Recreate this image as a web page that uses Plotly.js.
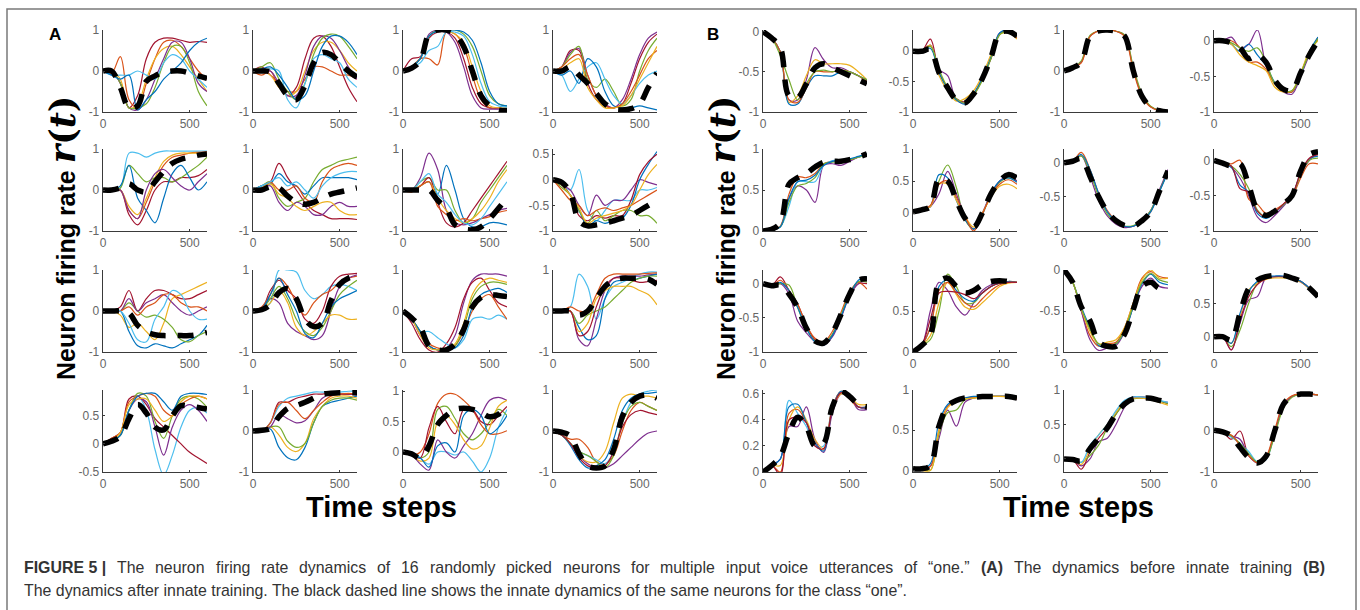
<!DOCTYPE html>
<html><head><meta charset="utf-8">
<script src="https://cdn.plot.ly/plotly-3.0.1.min.js"></script>
<style>html,body{margin:0;padding:0;background:#fff;}#chart{width:1360px;height:610px;}</style>
</head><body><div id="chart"></div>
<script>
// time steps sampled every 50
const T = [0,50,100,150,200,250,300,350,400,450,500,550,600];
const PALETTE = {blue:'#0072BD', orange:'#D95319', yellow:'#EDB120', purple:'#7E2F8E', green:'#77AC30', lightblue:'#4DBEEE', darkred:'#A2142F'};

// ---------- Panel A (before innate training) ----------
const A1_innate = [0,0,-0.4,-0.9,-0.85,-0.25,-0.12,-0.03,0,0,-0.05,-0.12,-0.18];
const A1_runs = {
  darkred:[0,0,-0.3,-0.9,-0.6,0.3,0.7,0.8,0.8,0.75,0.7,0.72,0.7],
  orange:[0,-0.05,0.35,-0.7,-0.9,-0.3,0.3,0.7,0.75,0.6,0.3,0,-0.2],
  yellow:[0,0,-0.2,-0.9,-0.8,-0.2,0.3,0.55,0.6,0.4,0.1,-0.2,-0.5],
  purple:[0,0,-0.3,-0.9,-0.95,-0.7,-0.2,0.3,0.7,0.7,0.3,-0.3,-0.5],
  green:[0,0,-0.3,-0.9,-0.9,-0.8,-0.4,0.2,0.6,0.6,0.2,-0.5,-0.85],
  lightblue:[0,-0.1,-0.1,-0.1,0,-0.1,-0.2,0.2,0.4,0.3,0,-0.2,-0.4],
  blue:[0,-0.1,-0.2,-0.1,-0.95,-0.7,-0.5,-0.2,0,0.2,0.5,0.7,0.8]
};
const A2_innate = [0,0,-0.02,-0.3,-0.6,-0.7,-0.35,0.2,0.45,0.4,0.2,0,-0.15];
const A2_runs = {
  darkred:[0,0.1,-0.1,-0.3,-0.6,-0.4,0.3,0.8,0.85,0.6,0.1,-0.4,-0.75],
  orange:[0,-0.1,0,-0.4,-0.5,-0.5,-0.2,0.1,0.1,0,-0.1,-0.1,-0.2],
  yellow:[0,0,-0.1,-0.4,-0.6,-0.5,0,0.5,0.7,0.7,0.5,0.2,0],
  purple:[0,0,0,-0.3,-0.6,-0.6,-0.1,0.6,0.85,0.8,0.5,0.1,-0.2],
  green:[0,0.1,0.2,-0.2,-0.5,-0.7,-0.3,0.4,0.8,0.9,0.85,0.6,0.3],
  lightblue:[0,0,0.05,0,-0.7,-0.9,-0.3,0.3,0.4,0.3,0.2,-0.2,-0.4],
  blue:[0,0.05,0.1,-0.1,-0.4,-0.7,-0.6,0,0.6,0.85,0.85,0.7,0.4]
};
const A3_innate = [0,0.07,0.25,0.9,1,1,0.9,0.6,0,-0.6,-0.85,-0.95,-0.97];
const A3_runs = {
  darkred:[0,0.3,0.35,0.8,0.95,0.95,0.8,0.3,-0.4,-0.8,-0.9,-0.92,-0.92],
  orange:[0,0.1,0.3,0.3,0.15,0.95,0.9,0.6,-0.1,-0.7,-0.9,-0.9,-0.9],
  yellow:[0,0.1,0.3,0.85,0.98,0.98,0.9,0.7,0.1,-0.5,-0.85,-0.9,-0.9],
  purple:[0,0.1,0.3,0.9,1,0.95,0.7,0.1,-0.6,-0.9,-0.93,-0.93,-0.93],
  green:[0,0.1,0.3,0.85,1,1,1,0.9,0.6,0,-0.6,-0.8,-0.85],
  lightblue:[0,0.1,0.2,0.5,0.6,0.95,0.95,0.85,0.4,-0.3,-0.75,-0.85,-0.88],
  blue:[0,0.1,0.3,0.85,0.98,1,1,0.95,0.75,0.2,-0.5,-0.8,-0.85]
};
const A4_innate = [0,0,0.1,-0.1,-0.3,-0.55,-0.8,-0.93,-0.95,-0.92,-0.8,-0.4,-0.05];
const A4_runs = {
  darkred:[0,0.1,0.5,0.5,-0.3,-0.7,-0.85,-0.9,-0.8,-0.3,0.3,0.7,0.9],
  purple:[0,0.1,0.45,0.55,-0.1,-0.6,-0.8,-0.9,-0.7,-0.2,0.4,0.8,0.95],
  green:[0,0.1,0.4,0.6,-0.2,-0.4,-0.2,-0.5,-0.85,-0.7,0,0.5,0.8],
  lightblue:[0,-0.1,-0.5,-0.2,0.1,0.2,-0.2,-0.6,-0.8,-0.6,-0.3,-0.1,0],
  blue:[0,-0.1,0,-0.3,0.3,0.1,-0.5,-0.85,-0.9,-0.9,-0.85,-0.9,-0.95],
  orange:[0,0.1,0.3,0.4,-0.1,-0.6,-0.85,-0.9,-0.8,-0.5,-0.1,0.3,0.5],
  yellow:[0,0.05,0.2,0.3,-0.4,-0.7,-0.9,-0.9,-0.85,-0.6,-0.2,0.2,0.6]
};
const A5_innate = [0,0,0.05,0.15,0,-0.05,0.2,0.45,0.65,0.75,0.8,0.85,0.88];
const A5_runs = {
  darkred:[0,0,0,-0.6,-0.85,-0.5,0,0.2,0.2,0.3,0.3,0.35,0.5],
  lightblue:[0,0,0.05,0.9,0.9,0.8,0.9,0.95,0.95,0.95,0.95,0.95,0.95],
  green:[0,0,0.05,0.6,0.4,0.2,0.3,0.3,0.2,0.3,0.45,0.6,0.8],
  blue:[0,0,0.1,0.6,-0.2,-0.5,-0.8,-0.2,0.4,0.6,0.3,0,0.2],
  orange:[0,0,0,-0.5,-0.7,-0.3,0.2,0.6,0.8,0.85,0.9,0.92,0.93],
  yellow:[0,0,0,-0.4,-0.6,-0.2,0.3,0.7,0.85,0.9,0.9,0.9,0.9],
  purple:[0,0,0,-0.5,-0.7,0,0.4,0.5,0.3,0.1,0,0.2,0.4]
};
const A6_innate = [0,0,0.08,0.05,-0.15,-0.3,-0.35,-0.3,-0.2,-0.1,-0.05,0,0.05];
const A6_runs = {
  darkred:[0,0.1,0.2,0.65,0.3,0,-0.3,-0.5,-0.6,-0.7,-0.7,-0.7,-0.72],
  green:[0,0.1,0.2,-0.2,-0.4,-0.3,-0.2,0.2,0.5,0.6,0.7,0.75,0.8],
  blue:[0,0.1,0.15,0.4,0.2,0.1,-0.1,0.1,0.3,0.3,0.3,0.3,0.25],
  purple:[0,0.05,0.1,-0.3,-0.5,-0.3,-0.4,-0.6,-0.6,-0.4,-0.3,-0.4,-0.4],
  orange:[0,0.05,0.2,0,0,0.1,-0.2,-0.3,0.2,0.5,0.6,0.65,0.6],
  yellow:[0,0.05,0.15,-0.1,-0.2,-0.4,-0.5,-0.4,-0.3,-0.3,-0.5,-0.6,-0.6],
  lightblue:[0,0.1,0.2,0.3,0.1,0.2,0,-0.2,0.1,0.3,0.4,0.45,0.45]
};
const A7_innate = [0,0,0,0,-0.25,-0.45,-0.85,-0.95,-0.97,-0.9,-0.7,-0.45,-0.2];
const A7_runs = {
  purple:[0,0,0.3,0.9,0.5,-0.5,-0.8,-0.85,-0.8,-0.7,-0.6,-0.5,-0.45],
  blue:[0,0,0.1,0.2,-0.1,0.6,0,-0.7,-0.9,-0.9,-0.8,-0.8,-0.85],
  green:[0,0,0.2,0.3,0,0,-0.5,-0.8,-0.7,-0.3,0,0.3,0.6],
  darkred:[0,0,0.1,0.3,-0.3,-0.8,-0.9,-0.8,-0.5,-0.2,0.1,0.4,0.7],
  yellow:[0,0,0.1,0.2,-0.2,-0.5,-0.7,-0.8,-0.7,-0.5,-0.2,0.2,0.5],
  orange:[0,-0.05,0.1,0.2,-0.4,-0.6,-0.75,-0.7,-0.75,-0.7,-0.65,-0.55,-0.5],
  lightblue:[0,0,0.2,0.4,-0.1,-0.3,-0.6,-0.8,-0.85,-0.7,-0.4,-0.1,0.2]
};
const A8_innate = [0,-0.05,-0.25,-0.8,-0.9,-0.88,-0.85,-0.8,-0.75,-0.7,-0.6,-0.5,-0.4];
const A8_runs = {
  lightblue:[0,-0.1,-0.2,0.2,-0.6,-0.8,-0.6,-0.4,-0.4,-0.4,-0.2,-0.2,-0.15],
  purple:[0,-0.1,-0.2,-0.5,-0.7,-0.3,-0.5,-0.4,-0.4,-0.2,0,-0.05,-0.1],
  blue:[0,-0.1,-0.3,-0.6,-0.9,-0.8,-0.85,-0.8,-0.75,-0.5,0,0.3,0.55],
  darkred:[0,-0.1,-0.3,-0.7,-0.8,-0.7,-0.75,-0.7,-0.7,-0.4,0.1,0.35,0.5],
  green:[0,-0.15,-0.3,-0.6,-0.85,-0.6,-0.8,-0.7,-0.6,-0.6,-0.7,-0.7,-0.85],
  orange:[0,-0.2,-0.4,-0.5,-0.7,-0.6,-0.55,-0.6,-0.55,-0.5,-0.4,-0.3,-0.2],
  yellow:[0,-0.1,-0.3,-0.55,-0.85,-0.75,-0.7,-0.65,-0.6,-0.5,-0.2,0.1,0.3]
};
const A9_innate = [0,0,0,-0.05,-0.35,-0.5,-0.58,-0.6,-0.6,-0.6,-0.6,-0.57,-0.52];
const A9_runs = {
  darkred:[0,0,0.1,0.5,0,0.3,0.5,0.5,0.4,0.3,0.3,0.4,0.5],
  yellow:[0,0,-0.1,-0.4,-0.3,-0.5,-0.7,-0.3,0.3,0.4,0.5,0.6,0.7],
  blue:[0,0,0,-0.5,-0.85,-0.9,-0.8,-0.85,-0.9,-0.8,-0.7,-0.6,-0.35],
  green:[0,0,0,0.2,0,-0.15,-0.1,-0.2,-0.4,-0.7,-0.75,-0.6,-0.5],
  purple:[0,0,0,0.3,0,0.2,0.3,0.4,0.2,0,-0.1,0,0.1],
  orange:[0,0,0,0.1,-0.1,0.1,0.2,0.4,0.4,0.2,0.1,0.1,0],
  lightblue:[0,0,0,-0.3,-0.7,-0.75,-0.2,0.1,0.5,0.4,0,-0.2,-0.2]
};
const A10_innate = [0,0.03,0.15,0.45,0.55,0.3,-0.2,-0.38,-0.3,0.25,0.65,0.8,0.85];
const A10_runs = {
  lightblue:[0,0.05,0.2,1,1,0.95,0.5,0.3,0.4,0.6,0.65,0.6,0.5],
  darkred:[0,0.05,0.5,0.75,0.5,0.3,-0.2,-0.3,0,0.6,0.85,0.9,0.92],
  orange:[0,0.1,0.4,0.8,0.6,0.2,-0.1,0.2,0.4,0.5,0.7,0.8,0.85],
  purple:[0,0.05,0.3,0.2,-0.3,-0.5,-0.6,-0.7,-0.6,0,0.6,0.8,0.88],
  green:[0,0.05,0.3,0.6,0.3,-0.2,-0.5,-0.6,-0.4,0,0.4,0.6,0.75],
  yellow:[0,0.05,0.2,0.5,0.2,-0.4,-0.6,-0.5,-0.3,-0.1,-0.1,-0.2,-0.2],
  blue:[0,0.05,0.4,0.8,0.4,0,-0.55,-0.65,-0.3,0.1,0.3,0.4,0.5]
};
const A11_innate = [0,-0.17,-0.4,-0.85,-0.95,-0.95,-0.8,-0.45,0.1,0.33,0.4,0.38,0.35];
const A11_runs = {
  purple:[0,-0.2,-0.6,-0.85,-0.95,-0.9,-0.6,0.2,0.75,0.9,0.9,0.9,0.85],
  darkred:[0,-0.3,-0.7,-0.95,-1,-0.8,-0.4,0.3,0.7,0.8,0.5,0.2,0.1],
  lightblue:[0,-0.2,-0.5,-0.5,-0.65,-0.8,-0.9,-0.7,-0.2,-0.15,-0.2,-0.1,-0.2],
  orange:[0,-0.2,-0.5,-0.8,-0.9,-0.95,-0.85,-0.5,0,0.3,0.4,0.1,-0.2],
  green:[0,-0.2,-0.5,-0.85,-0.95,-0.95,-0.85,-0.4,0.3,0.6,0.7,0.7,0.65],
  blue:[0,-0.2,-0.5,-0.85,-0.95,-0.95,-0.9,-0.6,0.1,0.4,0.5,0.55,0.45],
  yellow:[0,-0.2,-0.6,-0.9,-0.95,-0.9,-0.8,-0.3,0.4,0.7,0.8,0.75,0.7]
};
const A12_innate = [0,0,0,-0.1,0,0.3,0.6,0.75,0.8,0.8,0.8,0.78,0.65];
const A12_runs = {
  lightblue:[0,0,0.1,0.9,0.6,-0.2,0.3,0.6,0.7,0.8,0.9,0.95,0.95],
  purple:[0,0,0,-0.7,-0.85,-0.2,0.5,0.8,0.85,0.85,0.85,0.88,0.9],
  blue:[0,0,0,-0.4,-0.7,-0.6,0.3,0.7,0.75,0.75,0.8,0.85,0.9],
  green:[0,0,0,-0.3,-0.1,0,0.1,0.3,0.5,0.7,0.8,0.85,0.85],
  orange:[0,0,0.1,0,0,0.4,0.8,0.9,0.9,0.9,0.9,0.92,0.93],
  yellow:[0,0,0,-0.5,-0.3,0.3,0.5,0.6,0.6,0.6,0.5,0.4,0.15],
  darkred:[0,0,0,-0.6,-0.5,0.1,0.6,0.8,0.8,0.75,0.7,0.72,0.75]
};
const A13_innate = [0,0.05,0.13,0.45,0.7,0.55,0.3,0.25,0.5,0.68,0.67,0.65,0.62];
const A13_runs = {
  lightblue:[0,0.05,0.15,0.6,0.85,0.6,-0.1,-0.55,-0.2,0.3,0.6,0.65,0.55],
  darkred:[0,0.1,0.2,0.8,0.85,0.7,0.45,0.3,0.15,0,-0.15,-0.25,-0.35],
  purple:[0,0.05,0.15,0.6,0.8,0.75,0.3,-0.2,0.3,0.6,0.7,0.6,0.4],
  green:[0,0.05,0.15,0.6,0.9,0.85,0.4,0.1,0.5,0.8,0.85,0.8,0.65],
  orange:[0,0.1,0.2,0.75,0.85,0.9,0.85,0.6,0.5,0.7,0.8,0.85,0.8],
  yellow:[0,0.05,0.2,0.7,0.8,0.8,0.6,0.4,0.5,0.75,0.85,0.85,0.8],
  blue:[0,0.05,0.15,0.6,0.85,0.9,0.9,0.75,0.6,0.85,0.9,0.9,0.88]
};
const A14_innate = [0,0.02,0.06,0.35,0.55,0.62,0.7,0.8,0.9,0.92,0.93,0.93,0.93];
const A14_runs = {
  blue:[0,0,0.05,-0.4,-0.65,-0.7,-0.4,0.2,0.6,0.7,0.75,0.8,0.85],
  yellow:[0,0,0.1,-0.1,-0.4,-0.5,-0.3,0.3,0.6,0.8,0.85,0.85,0.8],
  green:[0,0,0.1,0.1,-0.25,-0.4,-0.3,0.2,0.6,0.75,0.8,0.8,0.75],
  purple:[0,0,0.1,0.4,0.3,0.2,0.25,0.5,0.8,0.9,0.9,0.9,0.88],
  darkred:[0,0,0.2,0.7,0.7,0.8,0.85,0.9,0.9,0.92,0.9,0.9,0.92],
  lightblue:[0,0,0.2,0.6,0.8,0.85,0.9,0.95,0.95,0.95,0.95,0.97,0.97],
  orange:[0,0,0.2,0.65,0.7,0.5,0.3,0.5,0.7,0.85,0.9,0.92,0.9]
};
const A15_innate = [0,-0.03,-0.1,0.1,0.45,0.6,0.7,0.72,0.7,0.65,0.58,0.62,0.78];
const A15_runs = {
  lightblue:[0,0,-0.1,-0.2,0,0,-0.05,0,-0.15,-0.33,-0.1,0.4,0.7],
  green:[0,-0.05,-0.1,0,0.7,0.75,0.55,0.3,0.2,0.3,0.5,0.7,0.6],
  purple:[0,-0.05,-0.2,-0.3,0.2,0,-0.1,0.1,0.3,0.6,0.85,0.9,0.85],
  orange:[0,-0.05,0,0.3,0.8,0.95,0.95,0.85,0.7,0.45,0.3,0.3,0.35],
  darkred:[0,-0.05,-0.1,0.4,0.75,0.5,0.3,0.7,0.7,0.5,0.45,0.6,0.75],
  yellow:[0,-0.05,-0.15,-0.1,0.5,0.6,0.45,0.2,0.05,0.1,0.4,0.75,0.85],
  blue:[0,-0.05,-0.1,-0.25,0.1,0.15,0,0.6,0.7,0.6,0.3,0.4,0.6]
};
const A16_innate = [0,-0.03,-0.12,-0.55,-0.85,-0.9,-0.85,-0.45,0.35,0.7,0.85,0.88,0.8];
const A16_runs = {
  orange:[0,-0.1,-0.2,-0.2,-0.4,-0.75,-0.8,-0.6,0,0.5,0.7,0.6,0.5],
  purple:[0,-0.1,-0.3,-0.6,-0.8,-0.9,-0.9,-0.8,-0.6,-0.4,-0.2,-0.05,0],
  yellow:[0,-0.1,-0.3,-0.6,-0.75,-0.75,-0.5,0.2,0.8,0.9,0.85,0.85,0.8],
  lightblue:[0,-0.1,-0.3,-0.5,-0.6,-0.7,-0.8,-0.5,0.2,0.7,0.9,0.97,1],
  blue:[0,-0.1,-0.35,-0.7,-0.9,-0.85,-0.7,-0.2,0.5,0.8,0.9,0.92,0.95],
  green:[0,-0.1,-0.3,-0.5,-0.6,-0.75,-0.9,-0.6,0.2,0.6,0.7,0.6,0.5],
  darkred:[0,-0.1,-0.3,-0.65,-0.85,-0.9,-0.85,-0.5,0.1,0.4,0.5,0.45,0.4]
};

// ---------- Panel B (after innate training) ----------
const B1_innate = [0,-0.08,-0.2,-0.8,-0.82,-0.65,-0.45,-0.4,-0.45,-0.5,-0.55,-0.6,-0.65];
const B1_runs = {
  purple:[0,-0.08,-0.25,-0.85,-0.85,-0.6,-0.2,-0.35,-0.45,-0.45,-0.5,-0.55,-0.62],
  yellow:[0,-0.08,-0.25,-0.88,-0.8,-0.55,-0.35,-0.4,-0.4,-0.4,-0.42,-0.5,-0.6],
  blue:[0,-0.08,-0.25,-0.9,-0.9,-0.7,-0.55,-0.55,-0.55,-0.5,-0.5,-0.55,-0.6],
  orange:[0,-0.08,-0.25,-0.85,-0.88,-0.7,-0.5,-0.5,-0.5,-0.48,-0.5,-0.55,-0.62],
  green:[0,-0.08,-0.3,-0.6,-0.85,-0.65,-0.5,-0.48,-0.5,-0.48,-0.5,-0.55,-0.6]
};
const B2_innate = [0,0,0.03,-0.35,-0.6,-0.8,-0.85,-0.7,-0.45,-0.1,0.3,0.33,0.25];
const B2_runs = {
  purple:[0,0,0.1,-0.3,-0.4,-0.8,-0.85,-0.7,-0.45,-0.1,0.3,0.33,0.25],
  darkred:[0,0,0.2,-0.35,-0.6,-0.78,-0.83,-0.72,-0.45,-0.12,0.28,0.35,0.22],
  yellow:[0,0,0.1,-0.4,-0.65,-0.82,-0.78,-0.65,-0.4,-0.05,0.28,0.3,0.2],
  blue:[0,0,0.05,-0.35,-0.62,-0.8,-0.87,-0.7,-0.45,-0.1,0.3,0.35,0.25],
  green:[0,0,0.08,-0.3,-0.6,-0.78,-0.85,-0.72,-0.48,-0.12,0.27,0.33,0.24]
};
const B3_innate = [0,0.08,0.22,0.85,0.98,1,0.97,0.85,0,-0.62,-0.88,-0.97,-1];
const B3_runs = {
  purple:[0,0.08,0.22,0.85,0.98,1,0.97,0.86,0.05,-0.6,-0.87,-0.96,-0.99],
  green:[0,0.08,0.25,0.87,0.98,1,0.97,0.88,0.1,-0.55,-0.86,-0.96,-0.99],
  orange:[0,0.08,0.2,0.84,0.98,1,0.97,0.84,0,-0.62,-0.88,-0.97,-1]
};
const B4_innate = [0,0,-0.03,-0.1,-0.25,-0.2,-0.3,-0.55,-0.68,-0.7,-0.45,-0.2,0];
const B4_runs = {
  purple:[0,0,0.05,-0.1,-0.05,0.15,-0.35,-0.6,-0.72,-0.75,-0.5,-0.2,0.05],
  blue:[0,0,-0.05,-0.15,-0.05,-0.2,-0.35,-0.58,-0.7,-0.72,-0.48,-0.15,0.05],
  orange:[0,0,0,-0.1,-0.3,-0.3,-0.4,-0.6,-0.7,-0.72,-0.45,-0.18,0.02],
  yellow:[0,0,-0.05,-0.2,-0.3,-0.35,-0.42,-0.65,-0.72,-0.7,-0.45,-0.15,0],
  green:[0,0,-0.03,-0.1,-0.15,-0.1,-0.3,-0.6,-0.7,-0.7,-0.46,-0.18,0.03]
};
const B5_innate = [0,0.02,0.1,0.57,0.65,0.7,0.78,0.84,0.85,0.85,0.87,0.9,0.94];
const B5_runs = {
  purple:[0,0.01,0.05,0.4,0.55,0.5,0.35,0.8,0.82,0.8,0.85,0.9,0.93],
  orange:[0,0.01,0.06,0.45,0.66,0.65,0.7,0.82,0.85,0.86,0.87,0.9,0.93],
  lightblue:[0,0.01,0.05,0.3,0.6,0.6,0.6,0.8,0.86,0.86,0.88,0.9,0.93],
  green:[0,0.01,0.05,0.35,0.55,0.58,0.65,0.82,0.84,0.85,0.87,0.9,0.93],
  blue:[0,0.01,0.05,0.4,0.6,0.62,0.68,0.8,0.85,0.86,0.88,0.91,0.94]
};
const B6_innate = [0.02,0.05,0.1,0.53,0.5,0.2,-0.08,-0.22,0,0.3,0.5,0.6,0.55];
const B6_runs = {
  green:[0.02,0.05,0.1,0.5,0.75,0.4,-0.1,-0.25,-0.02,0.28,0.48,0.55,0.5],
  purple:[0.02,0.05,0.1,0.3,0.65,0.3,-0.05,-0.25,0,0.3,0.5,0.58,0.5],
  blue:[0.02,0.05,0.1,0.6,0.55,0.2,-0.1,-0.25,-0.02,0.3,0.5,0.55,0.48],
  yellow:[0.02,0.05,0.1,0.45,0.45,0.2,-0.05,-0.22,0,0.25,0.42,0.45,0.38],
  orange:[0.02,0.05,0.12,0.45,0.5,0.25,-0.05,-0.28,-0.02,0.28,0.45,0.52,0.45]
};
const B7_innate = [0,0.02,0.06,-0.2,-0.5,-0.72,-0.85,-0.92,-0.93,-0.85,-0.72,-0.42,-0.12];
const B7_runs = {
  orange:[0,0.02,0.15,-0.1,-0.45,-0.7,-0.85,-0.93,-0.93,-0.86,-0.72,-0.42,-0.12],
  purple:[0,0.02,0.1,-0.2,-0.55,-0.78,-0.9,-0.95,-0.93,-0.85,-0.7,-0.4,-0.1],
  green:[0,0.02,0.1,-0.15,-0.5,-0.75,-0.88,-0.93,-0.92,-0.85,-0.7,-0.42,-0.13],
  blue:[0,0.02,0.12,-0.1,-0.45,-0.72,-0.86,-0.93,-0.93,-0.86,-0.72,-0.43,-0.14]
};
const B8_innate = [0,-0.04,-0.08,-0.05,-0.35,-0.7,-0.78,-0.72,-0.62,-0.5,-0.15,0.08,0.12];
const B8_runs = {
  purple:[0,-0.04,-0.1,-0.25,-0.5,-0.8,-0.88,-0.78,-0.65,-0.5,-0.2,0,0.1],
  orange:[0,-0.04,-0.05,0,-0.55,-0.62,-0.75,-0.7,-0.62,-0.52,-0.25,-0.05,-0.05],
  blue:[0,-0.04,-0.1,-0.35,-0.45,-0.75,-0.82,-0.74,-0.63,-0.5,-0.18,0.02,0.06],
  green:[0,-0.04,-0.08,-0.2,-0.4,-0.7,-0.8,-0.73,-0.63,-0.5,-0.2,0,0.03],
  darkred:[0,-0.04,-0.08,-0.4,-0.45,-0.72,-0.8,-0.73,-0.62,-0.5,-0.17,0.03,0.08]
};
const B9_innate = [0,-0.03,-0.02,-0.15,-0.35,-0.65,-0.84,-0.87,-0.72,-0.45,-0.15,0.05,0.07];
const B9_runs = {
  darkred:[0,-0.03,0.1,-0.1,-0.3,-0.6,-0.82,-0.87,-0.75,-0.48,-0.15,0,0],
  purple:[0,-0.03,0,-0.15,-0.55,-0.72,-0.85,-0.9,-0.78,-0.5,-0.18,0,0.05],
  orange:[0,-0.03,0.05,-0.1,-0.3,-0.6,-0.8,-0.85,-0.7,-0.42,-0.12,0.02,-0.08],
  green:[0,-0.03,0,-0.02,-0.35,-0.65,-0.84,-0.88,-0.74,-0.46,-0.15,0.03,0.02],
  blue:[0,-0.03,0.02,-0.1,-0.35,-0.65,-0.85,-0.9,-0.76,-0.48,-0.17,0.05,0.1]
};
const B10_innate = [0,0.08,0.2,0.85,0.9,0.8,0.72,0.75,0.82,0.86,0.87,0.86,0.85];
const B10_runs = {
  purple:[0,0.08,0.5,0.85,0.75,0.55,0.45,0.6,0.75,0.82,0.85,0.86,0.85],
  green:[0,0.08,0.15,0.5,0.95,0.8,0.6,0.6,0.72,0.8,0.84,0.86,0.85],
  yellow:[0,0.08,0.2,0.6,0.85,0.7,0.55,0.52,0.6,0.7,0.8,0.84,0.85],
  blue:[0,0.08,0.3,0.8,0.88,0.75,0.65,0.62,0.72,0.8,0.84,0.86,0.85],
  orange:[0,0.08,0.3,0.75,0.85,0.72,0.6,0.55,0.65,0.75,0.82,0.85,0.85],
  darkred:[0,0.08,0.4,0.72,0.74,0.73,0.7,0.65,0.72,0.8,0.84,0.85,0.85]
};
const B11_innate = [0,-0.15,-0.45,-0.62,-0.88,-0.93,-0.93,-0.78,-0.48,-0.2,-0.15,-0.22,-0.2];
const B11_runs = {
  orange:[0,-0.15,-0.5,-0.8,-0.93,-0.9,-0.88,-0.7,-0.4,-0.1,-0.02,-0.08,-0.1],
  purple:[0,-0.15,-0.5,-0.85,-0.98,-0.95,-0.92,-0.75,-0.45,-0.2,-0.1,-0.2,-0.22],
  blue:[0,-0.15,-0.45,-0.7,-0.92,-0.94,-0.9,-0.75,-0.45,-0.17,-0.05,-0.15,-0.18],
  yellow:[0,-0.15,-0.48,-0.75,-0.9,-0.88,-0.85,-0.7,-0.4,-0.12,0,-0.1,-0.1],
  green:[0,-0.15,-0.47,-0.72,-0.9,-0.92,-0.9,-0.73,-0.43,-0.15,-0.04,-0.12,-0.15]
};
const B12_innate = [0,0,-0.05,0.35,0.72,0.85,0.9,0.92,0.92,0.88,0.83,0.73,0.6];
const B12_runs = {
  purple:[0,0,-0.2,0.2,0.55,0.6,0.88,0.9,0.9,0.87,0.82,0.72,0.6],
  green:[0,0,-0.15,0.1,0.5,0.8,0.88,0.9,0.9,0.88,0.83,0.72,0.6],
  yellow:[0,0,-0.1,0.3,0.7,0.8,0.86,0.88,0.88,0.86,0.82,0.72,0.6],
  darkred:[0,0,-0.2,0.25,0.6,0.78,0.87,0.9,0.9,0.88,0.83,0.73,0.6],
  blue:[0,0,-0.1,0.35,0.68,0.83,0.9,0.91,0.91,0.88,0.83,0.73,0.6]
};
const B13_innate = [0,0.05,0.12,0.3,0.42,0.35,0.2,0.22,0.5,0.62,0.58,0.52,0.5];
const B13_runs = {
  lightblue:[0,0.05,0.1,0.55,0.45,0.35,0.2,0.2,0.5,0.62,0.57,0.5,0.48],
  purple:[0,0.05,0.1,0.35,0.35,0.5,0.25,0.15,0.45,0.6,0.58,0.48,0.48],
  orange:[0,0.05,0,0.45,0.48,0.38,0.22,0.17,0.5,0.62,0.56,0.5,0.5],
  yellow:[0,0.05,0.05,0.4,0.5,0.4,0.25,0.18,0.48,0.6,0.58,0.52,0.52],
  blue:[0,0.05,0.1,0.5,0.52,0.38,0.22,0.16,0.48,0.62,0.58,0.5,0.5],
  darkred:[0,0.05,-0.02,0.4,0.42,0.38,0.2,0.18,0.48,0.61,0.57,0.5,0.49]
};
const B14_innate = [0.02,0.02,0.06,0.55,0.8,0.87,0.9,0.91,0.92,0.92,0.92,0.92,0.9];
const B14_runs = {
  purple:[0.02,0.02,0.05,0.4,0.75,0.55,0.85,0.9,0.92,0.92,0.92,0.92,0.88],
  green:[0.02,0.02,0,0.45,0.72,0.75,0.88,0.9,0.91,0.92,0.92,0.92,0.9],
  orange:[0.02,0.02,0.05,0.5,0.8,0.86,0.9,0.91,0.92,0.92,0.92,0.92,0.9],
  blue:[0.02,0.02,0.08,0.6,0.82,0.88,0.9,0.92,0.92,0.92,0.92,0.92,0.9],
  yellow:[0.02,0,0,0.5,0.78,0.86,0.89,0.9,0.91,0.92,0.92,0.91,0.89]
};
const B15_innate = [0,-0.01,-0.03,0.15,0.3,0.45,0.65,0.8,0.87,0.88,0.88,0.85,0.82];
const B15_runs = {
  purple:[0,-0.01,-0.1,0,0.25,0.3,0.5,0.75,0.88,0.88,0.86,0.84,0.82],
  darkred:[0,-0.01,-0.15,0.1,0.3,0.45,0.65,0.82,0.9,0.9,0.88,0.84,0.8],
  green:[0,-0.01,-0.05,0.05,0.2,0.45,0.65,0.8,0.87,0.88,0.87,0.84,0.8],
  yellow:[0,-0.01,-0.08,0.15,0.35,0.5,0.68,0.83,0.88,0.88,0.86,0.82,0.78],
  lightblue:[0,0,-0.05,0.2,0.35,0.5,0.7,0.85,0.9,0.9,0.88,0.85,0.82]
};
const B16_innate = [0.02,-0.02,-0.12,-0.4,-0.65,-0.78,-0.62,0,0.65,0.85,0.9,0.9,0.88];
const B16_runs = {
  darkred:[0.02,-0.02,-0.2,0,-0.6,-0.75,-0.65,-0.05,0.6,0.85,0.9,0.9,0.88],
  lightblue:[0.02,-0.02,-0.15,-0.3,-0.5,-0.75,-0.7,-0.05,0.62,0.84,0.9,0.9,0.88],
  purple:[0.02,-0.02,-0.12,-0.2,-0.6,-0.78,-0.66,-0.05,0.6,0.84,0.9,0.9,0.88],
  green:[0.02,-0.02,-0.12,-0.3,-0.55,-0.76,-0.68,-0.1,0.55,0.82,0.9,0.9,0.88],
  orange:[0.02,-0.02,-0.1,-0.35,-0.6,-0.78,-0.63,0.02,0.66,0.86,0.9,0.9,0.88]
};

// y-axis ranges and tick labels per subplot (row-major, 4x4)
const yRangeA = [[-1,1],[-1,1],[-1,1],[-1,1],[-1,1],[-1,1],[-1,1],[-1,0.6],[-1,1],[-1,1],[-1,1],[-1,1],[-0.5,0.96],[-1,1],[-0.33,1.02],[-1,1]];
const yTicksA = [[-1,0,1],[-1,0,1],[-1,0,1],[-1,0,1],[-1,0,1],[-1,0,1],[-1,0,1],[-1,-0.5,0,0.5],[-1,0,1],[-1,0,1],[-1,0,1],[-1,0,1],[-0.5,0,0.5],[-1,0,1],[0,0.5,1],[-1,0,1]];
const yRangeB = [[-1,0.02],[-1,0.35],[-1,1],[-1,0.15],[0,1],[-0.28,1],[-1,0.2],[-1,0.16],[-1,0.2],[0,1],[-1,0],[-0.23,1],[0,0.63],[-0.02,1],[-0.19,1],[-1,1]];
const yTicksB = [[-1,-0.5,0],[-1,-0.5,0],[-1,0,1],[-1,-0.5,0],[0,0.5,1],[0,0.5,1],[-1,-0.5,0],[-1,-0.5,0],[-1,-0.5,0],[0,0.5,1],[-1,-0.5,0],[0,0.5,1],[0,0.2,0.4,0.6],[0,0.5,1],[0,0.5,1],[-1,0,1]];
const xTicks = [0,500];

// caption text
const captionLine1 = [['FIGURE 5 |',true],['The',false],['neuron',false],['firing',false],['rate',false],['dynamics',false],['of',false],['16',false],['randomly',false],['picked',false],['neurons',false],['for',false],['multiple',false],['input',false],['voice',false],['utterances',false],['of',false],['\u201cone.\u201d',false],['(A)',true],['The',false],['dynamics',false],['before',false],['innate',false],['training',false],['(B)',true]];
const captionLine2 = 'The dynamics after innate training. The black dashed line shows the innate dynamics of the same neurons for the class \u201cone\u201d.';

const innateA = [A1_innate,A2_innate,A3_innate,A4_innate,A5_innate,A6_innate,A7_innate,A8_innate,A9_innate,A10_innate,A11_innate,A12_innate,A13_innate,A14_innate,A15_innate,A16_innate];
const runsA = [A1_runs,A2_runs,A3_runs,A4_runs,A5_runs,A6_runs,A7_runs,A8_runs,A9_runs,A10_runs,A11_runs,A12_runs,A13_runs,A14_runs,A15_runs,A16_runs];
const innateB = [B1_innate,B2_innate,B3_innate,B4_innate,B5_innate,B6_innate,B7_innate,B8_innate,B9_innate,B10_innate,B11_innate,B12_innate,B13_innate,B14_innate,B15_innate,B16_innate];
const runsB = [B1_runs,B2_runs,B3_runs,B4_runs,B5_runs,B6_runs,B7_runs,B8_runs,B9_runs,B10_runs,B11_runs,B12_runs,B13_runs,B14_runs,B15_runs,B16_runs];

// ---------- layout geometry (pixels) ----------
const WW = 1360, HH = 610, PW = 104, PH = 82;
const colLeftA = [103,253,403,553], colLeftB = [763,913,1064,1214];
const rowTop = [30,149,270,390];
const fmt = v => String(v);

const traces = [];
const layout = {
  width: WW, height: HH, margin:{l:0,r:0,t:0,b:0}, showlegend:false,
  paper_bgcolor:'#fff', plot_bgcolor:'rgba(0,0,0,0)', annotations:[], shapes:[]
};
let n = 0;
function addPanel(innate, runs, yRange, yTicks, cols) {
  for (let k = 0; k < 16; k++) {
    n++;
    const r = Math.floor(k/4), c = k%4;
    const xid = n===1 ? 'x' : 'x'+n, yid = n===1 ? 'y' : 'y'+n;
    const left = cols[c], top = rowTop[r];
    Object.keys(runs[k]).forEach(col => {
      traces.push({x:T, y:runs[k][col], xaxis:xid, yaxis:yid, type:'scatter', mode:'lines',
        line:{color:PALETTE[col], width:1.2, shape:'spline', smoothing:1}, hoverinfo:'skip'});
    });
    traces.push({x:T, y:innate[k], xaxis:xid, yaxis:yid, type:'scatter', mode:'lines',
      line:{color:'#000', width:5.5, dash:'16px,12px', shape:'spline', smoothing:1}, hoverinfo:'skip'});
    const common = {showline:true, linecolor:'#3a3a3a', linewidth:1.3, ticks:'inside', ticklen:2,
      tickcolor:'#3a3a3a', showgrid:false, zeroline:false, fixedrange:true,
      tickfont:{family:'Liberation Sans, Arial, sans-serif', size:12, color:'#666'}};
    layout[n===1?'xaxis':'xaxis'+n] = Object.assign({}, common, {
      domain:[left/WW, (left+PW)/WW], range:[0,600], tickvals:xTicks, ticktext:xTicks.map(fmt), anchor:yid});
    layout[n===1?'yaxis':'yaxis'+n] = Object.assign({}, common, {
      domain:[1-(top+PH)/HH, 1-top/HH], range:yRange[k], tickvals:yTicks[k], ticktext:yTicks[k].map(fmt), anchor:xid});
  }
}
addPanel(innateA, runsA, yRangeA, yTicksA, colLeftA);
addPanel(innateB, runsB, yRangeB, yTicksB, colLeftB);

const px = x => x/WW, py = y => 1 - y/HH;
const ann = (x, y, text, font, extra) => layout.annotations.push(Object.assign({
  xref:'paper', yref:'paper', x:px(x), y:py(y), text:text, showarrow:false, font:font,
  xanchor:'center', yanchor:'middle'}, extra||{}));

const boldFont = {family:'Liberation Sans, Arial, sans-serif', size:25, color:'#000'};
const ylabel = '<b>Neuron firing rate </b><span style="font-family:\'DejaVu Serif\';font-size:35px"><b><i>r</i>(<i>t</i>)</b></span>';
ann(55, 35, '<b>A</b>', {family:'Liberation Sans, Arial', size:17, color:'#000'});
ann(713, 35, '<b>B</b>', {family:'Liberation Sans, Arial', size:17, color:'#000'});
ann(62, 238, ylabel, boldFont, {textangle:-90});
ann(722, 238, ylabel, boldFont, {textangle:-90});
ann(381, 507, '<b>Time steps</b>', Object.assign({}, boldFont, {size:29}));
ann(1078, 507, '<b>Time steps</b>', Object.assign({}, boldFont, {size:29}));

// caption: first line justified to the full text width, second line left aligned
const capSize = 15.9, capLeft = 22, capRight = 1323;
const capFont = {family:'Liberation Sans, Arial, sans-serif', size:capSize, color:'#333'};
const cv = document.createElement('canvas').getContext('2d');
const wordW = (w, b) => { cv.font = (b ? 'bold ' : '') + capSize + 'px "Liberation Sans", Arial, sans-serif'; return cv.measureText(w).width; };
const widths = captionLine1.map(([w,b]) => wordW(w,b));
const gap = (capRight - capLeft - widths.reduce((a,b)=>a+b,0)) / (captionLine1.length - 1);
let cx = capLeft;
captionLine1.forEach(([w,b], i) => {
  ann(cx, 567, b ? '<b>'+w+'</b>' : w, capFont, {xanchor:'left'});
  cx += widths[i] + gap;
});
ann(capLeft, 590, captionLine2, capFont, {xanchor:'left'});

layout.shapes.push({type:'rect', xref:'paper', yref:'paper', x0:px(7), x1:px(1356), y0:py(640), y1:py(9),
  line:{color:'#7a7a7a', width:1.5}, fillcolor:'rgba(0,0,0,0)'});

Plotly.newPlot('chart', traces, layout, {staticPlot:true, displayModeBar:false});
</script></body></html>
